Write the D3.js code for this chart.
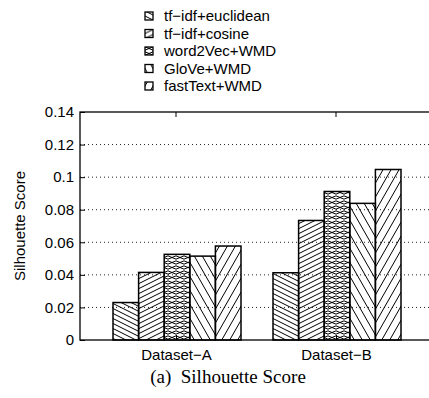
<!DOCTYPE html>
<html>
<head>
<meta charset="utf-8">
<script src="https://cdn.jsdelivr.net/npm/d3@7"></script>
<style>
  body { margin: 0; background: #fff; }
  text { font-family: "Liberation Sans", Arial, sans-serif; fill: #000; }
</style>
</head>
<body>
<svg width="429" height="398"></svg>
<script>
const categories = ["Dataset\u2212A", "Dataset\u2212B"];
const seriesNames = ["tf\u2212idf+euclidean", "tf\u2212idf+cosine", "word2Vec+WMD", "GloVe+WMD", "fastText+WMD"];
const euclidean = [0.023, 0.0413];
const cosine = [0.0415, 0.0734];
const word2vec = [0.0526, 0.0912];
const glove = [0.0515, 0.0839];
const fasttext = [0.0577, 0.1047];
const yTicks = [0, 0.02, 0.04, 0.06, 0.08, 0.1, 0.12, 0.14];

const values = [euclidean, cosine, word2vec, glove, fasttext];
const patternIds = ["p-euc", "p-cos", "p-w2v", "p-glove", "p-fast"];

const svg = d3.select("svg");
const plotL = 80, plotR = 432, plotT = 112, plotB = 340;

// hatch patterns (gnuplot-like)
const defs = svg.append("defs");
function hatch(id, w, h, paths) {
  const p = defs.append("pattern")
    .attr("id", id)
    .attr("patternUnits", "userSpaceOnUse")
    .attr("width", w)
    .attr("height", h);
  paths.forEach(d => p.append("path")
    .attr("d", d)
    .attr("stroke", "#000")
    .attr("stroke-width", 1)
    .attr("fill", "none"));
}
// shallow back diagonal
hatch("p-euc", 10, 5, ["M-10,-5L20,10", "M-10,0L10,10", "M0,-5L20,5"]);
// shallow forward diagonal
hatch("p-cos", 10, 5, ["M-10,10L20,-5", "M-10,5L10,-5", "M0,10L20,0"]);
// dense crosshatch
hatch("p-w2v", 8, 5, ["M-8,-2.5L16,7.5", "M-8,2.5L8,10.5", "M0,-7.5L16,2.5",
                      "M-8,7.5L16,-2.5", "M-8,2.5L8,-5.5", "M0,12.5L16,2.5"]);
// steep back diagonal
hatch("p-glove", 8, 14, ["M-8,-14L16,28", "M-8,0L8,28", "M0,-14L16,14"]);
// steep forward diagonal
hatch("p-fast", 8, 14, ["M-8,28L16,-14", "M-8,14L8,-14", "M0,28L16,0"]);

const y = d3.scaleLinear().domain([0, 0.14]).range([plotB, plotT]);
const x0 = d3.scalePoint().domain(categories).range([plotL, plotR]).padding(0.6);
const x1 = d3.scaleBand().domain(seriesNames).range([-63, 65]);

// grid
svg.append("g")
  .selectAll("line")
  .data(yTicks.filter(d => d > 0 && d < 0.14))
  .join("line")
  .attr("x1", plotL).attr("x2", plotR)
  .attr("y1", d => y(d)).attr("y2", d => y(d))
  .attr("stroke", "#222")
  .attr("stroke-width", 1)
  .attr("stroke-dasharray", "1,3");

// bars
const groups = svg.append("g")
  .selectAll("g")
  .data(categories)
  .join("g")
  .attr("transform", d => `translate(${x0(d)},0)`);

groups.selectAll("rect")
  .data((c, ci) => seriesNames.map((s, si) => ({ s, si, v: values[si][ci] })))
  .join("rect")
  .attr("x", d => x1(d.s))
  .attr("width", x1.bandwidth())
  .attr("y", d => y(d.v))
  .attr("height", d => y(0) - y(d.v))
  .attr("fill", d => `url(#${patternIds[d.si]})`)
  .attr("stroke", "#000")
  .attr("stroke-width", 1.5);

// frame
svg.append("rect")
  .attr("x", plotL).attr("y", plotT)
  .attr("width", plotR - plotL).attr("height", plotB - plotT)
  .attr("fill", "none")
  .attr("stroke", "#000")
  .attr("stroke-width", 1.3);

// y axis
const yAxis = svg.append("g")
  .attr("transform", `translate(${plotL},0)`)
  .call(d3.axisLeft(y)
    .tickValues(yTicks)
    .tickSizeInner(-5)
    .tickSizeOuter(0)
    .tickPadding(6)
    .tickFormat(d => d === 0 ? "0" : String(+d.toFixed(2))));
yAxis.select(".domain").remove();
yAxis.selectAll("line").attr("stroke", "#000");
yAxis.selectAll("text")
  .style("font-family", "'Liberation Sans', Arial, sans-serif")
  .style("font-size", "15px")
  .attr("fill", "#000");

// x axis
const xAxis = svg.append("g")
  .attr("transform", `translate(0,${plotB})`)
  .call(d3.axisBottom(x0).tickSizeInner(-5).tickSizeOuter(0).tickPadding(9));
xAxis.select(".domain").remove();
xAxis.selectAll("line").attr("stroke", "#000");
xAxis.selectAll("text")
  .style("font-family", "'Liberation Sans', Arial, sans-serif")
  .style("font-size", "15px")
  .attr("fill", "#000");

// mirrored top ticks
svg.append("g")
  .selectAll("line")
  .data(categories)
  .join("line")
  .attr("x1", d => x0(d)).attr("x2", d => x0(d))
  .attr("y1", plotT).attr("y2", plotT + 5)
  .attr("stroke", "#000");

// y label
svg.append("text")
  .attr("transform", `translate(25,${(plotT + plotB) / 2}) rotate(-90)`)
  .attr("text-anchor", "middle")
  .attr("font-size", "15px")
  .text("Silhouette Score");

// legend
const legend = svg.append("g")
  .selectAll("g")
  .data(seriesNames)
  .join("g")
  .attr("transform", (d, i) => `translate(145,${16 + i * 17.5})`);
legend.append("rect")
  .attr("x", 0).attr("y", -4)
  .attr("width", 8).attr("height", 8)
  .attr("fill", (d, i) => `url(#${patternIds[i]})`)
  .attr("stroke", "#000")
  .attr("stroke-width", 1.3);
legend.append("text")
  .attr("x", 19)
  .attr("dy", "0.35em")
  .attr("font-size", "15px")
  .text(d => d);

// caption
svg.append("text")
  .attr("x", 228)
  .attr("y", 383)
  .attr("text-anchor", "middle")
  .style("font-family", "'Liberation Serif', 'Times New Roman', serif")
  .style("font-size", "19px")
  .style("white-space", "pre")
  .text("(a)  Silhouette Score");
</script>
</body>
</html>
